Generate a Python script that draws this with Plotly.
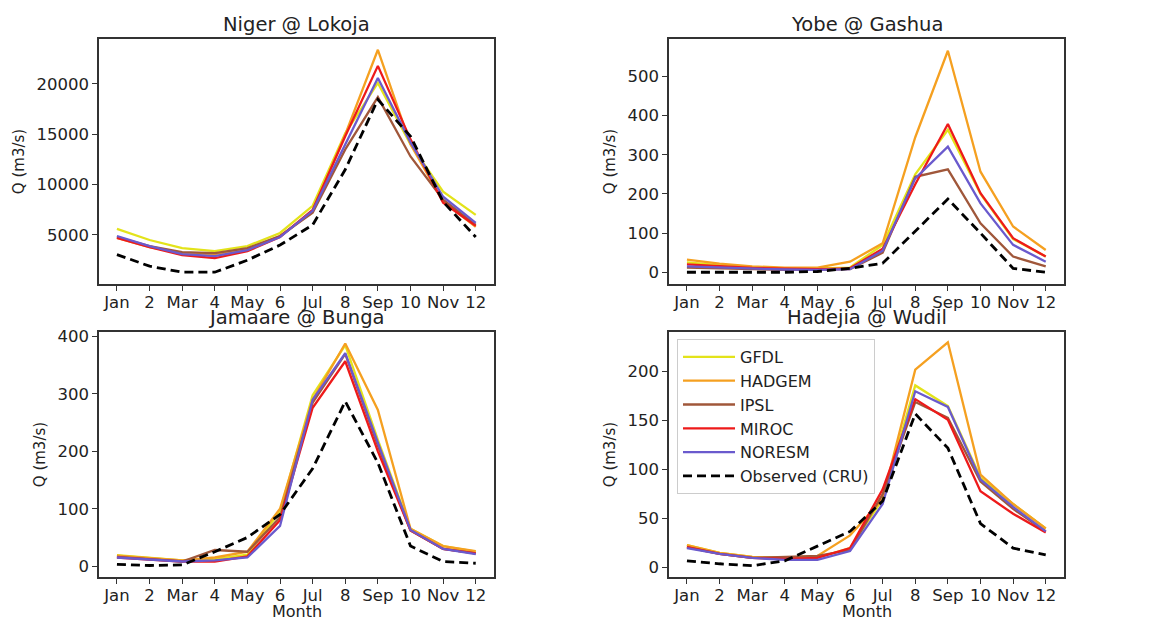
import plotly.graph_objects as go

# The page body has an 8px margin, so the figure is drawn 8px smaller and offset
OFF = 8
W, H = 1159 - OFF, 622 - OFF
months = list(range(1, 13))
month_labels = ["Jan", "2", "Mar", "4", "May", "6", "Jul", "8", "Sep", "10", "Nov", "12"]

series_names = ["GFDL", "HADGEM", "IPSL", "MIROC", "NORESM", "Observed (CRU)"]
colors = ["#e3e31a", "#f5a020", "#a0573a", "#ee1a1a", "#6a5acd", "#000000"]

# Niger @ Lokoja
niger_gfdl   = [5600, 4500, 3700, 3400, 3900, 5200, 7900, 15100, 20100, 14000, 9300, 7000]
niger_hadgem = [4700, 3800, 3200, 3100, 3600, 4900, 7300, 15000, 23400, 14000, 8300, 5800]
niger_ipsl   = [4800, 3900, 3300, 3200, 3700, 4900, 7200, 13500, 18700, 12800, 8500, 6000]
niger_miroc  = [4700, 3800, 3000, 2700, 3400, 4800, 7500, 14800, 21800, 14500, 8200, 5900]
niger_noresm = [4900, 3900, 3100, 2900, 3500, 4800, 7400, 14000, 20600, 14200, 8800, 6200]
niger_obs    = [3050, 1900, 1300, 1300, 2500, 4000, 6000, 11500, 18450, 14800, 8300, 4800]

# Yobe @ Gashua
yobe_gfdl   = [25, 18, 13, 10, 10, 12, 70, 250, 364, 200, 85, 40]
yobe_hadgem = [32, 22, 15, 12, 12, 27, 74, 345, 566, 257, 117, 57]
yobe_ipsl   = [12, 10, 8, 6, 6, 8, 50, 244, 263, 125, 40, 15]
yobe_miroc  = [20, 15, 11, 9, 8, 10, 60, 225, 379, 202, 87, 40]
yobe_noresm = [15, 12, 9, 7, 6, 8, 55, 240, 321, 176, 70, 27]
yobe_obs    = [0, 0, 0, 0, 2, 10, 23, 105, 187, 100, 10, 0]

# Jamaare @ Bunga
jam_gfdl   = [19, 15, 10, 12, 20, 95, 298, 385, 220, 65, 35, 25]
jam_hadgem = [18, 14, 10, 15, 25, 100, 290, 388, 272, 65, 35, 26]
jam_ipsl   = [16, 12, 8, 28, 25, 85, 285, 370, 210, 62, 30, 22]
jam_miroc  = [15, 12, 8, 8, 17, 80, 276, 357, 200, 62, 30, 22]
jam_noresm = [15, 12, 8, 10, 15, 70, 290, 371, 215, 63, 30, 21]
jam_obs    = [3, 1, 2, 25, 50, 90, 170, 287, 180, 35, 8, 5]

# Hadejia @ Wudil
had_gfdl   = [23, 15, 11, 10, 10, 20, 70, 186, 165, 92, 65, 40]
had_hadgem = [23, 15, 11, 10, 12, 33, 70, 202, 230, 95, 65, 40]
had_ipsl   = [21, 14, 10, 11, 12, 18, 75, 169, 153, 88, 60, 37]
had_miroc  = [21, 14, 10, 9, 10, 20, 80, 172, 151, 78, 55, 36]
had_noresm = [20, 14, 10, 8, 8, 17, 65, 180, 164, 90, 62, 37]
had_obs    = [7, 4, 2, 7, 22, 37, 68, 157, 122, 45, 20, 13]

panels = [
    ("Niger @ Lokoja", [niger_gfdl, niger_hadgem, niger_ipsl, niger_miroc, niger_noresm, niger_obs],
     [130, 24470], [5000, 10000, 15000, 20000]),
    ("Yobe @ Gashua", [yobe_gfdl, yobe_hadgem, yobe_ipsl, yobe_miroc, yobe_noresm, yobe_obs],
     [-30, 596], [0, 100, 200, 300, 400, 500]),
    ("Jamaare @ Bunga", [jam_gfdl, jam_hadgem, jam_ipsl, jam_miroc, jam_noresm, jam_obs],
     [-19, 408], [0, 100, 200, 300, 400]),
    ("Hadejia @ Wudil", [had_gfdl, had_hadgem, had_ipsl, had_miroc, had_noresm, had_obs],
     [-9.5, 240.5], [0, 50, 100, 150, 200]),
]

# target pixel frames in the screenshot (x0, x1, ytop, ybottom)
frames = [(99, 494, 39, 284), (669, 1064, 39, 284), (99, 494, 332, 577), (669, 1064, 332, 577)]


def px(x):
    return (x - OFF) / W


def py(y):
    return 1 - (y - OFF) / H


FONT = "DejaVu Sans"
fig = go.Figure()
layout = dict(
    width=W, height=H, template="none",
    margin=dict(l=0, r=0, t=0, b=0),
    paper_bgcolor="white", plot_bgcolor="white",
    font=dict(family=FONT, size=16, color="#222"),
    showlegend=True,
    legend=dict(x=px(677), y=py(339), xanchor="left", yanchor="top",
                bgcolor="rgba(255,255,255,0.9)", bordercolor="#cccccc", borderwidth=1,
                font=dict(family=FONT, size=16, color="#222"), tracegroupgap=0,
                itemwidth=52),
)
annotations = []

for i, (title, data, yr, ytv) in enumerate(panels):
    x0, x1, yt, yb = frames[i]
    n = "" if i == 0 else str(i + 1)
    xa, ya = "xaxis" + n, "yaxis" + n
    layout[xa] = dict(
        domain=[px(x0), px(x1)], anchor="y" + n, range=[0.45, 12.56],
        tickvals=months, ticktext=month_labels, ticks="outside", ticklen=5, tickwidth=1.3,
        tickcolor="#333", showline=True, mirror=True, linecolor="#333", linewidth=1.6,
        showgrid=False, zeroline=False, tickfont=dict(size=16.5, color="#222"),
        ticklabelstandoff=-3,
    )
    layout[ya] = dict(
        domain=[py(yb), py(yt)], anchor="x" + n, range=yr,
        tickvals=ytv, tickformat="d", ticks="outside", ticklen=5, tickwidth=1.3,
        tickcolor="#333", showline=True, mirror=True, linecolor="#333", linewidth=1.6,
        showgrid=False, zeroline=False, tickfont=dict(size=16.5, color="#222"),
        title=dict(text="Q (m3/s)", font=dict(size=15, color="#222"), standoff=8),
    )
    for j, (name, vals) in enumerate(zip(series_names, data)):
        obs = j == 5
        fig.add_trace(go.Scatter(
            x=months, y=vals, mode="lines", name=name,
            line=dict(color=colors[j], width=2.8 if obs else 2.3,
                      dash="9px,5px" if obs else "solid"),
            xaxis="x" + n, yaxis="y" + n,
            showlegend=(i == 3), legendgroup=name,
        ))
    annotations.append(dict(
        text=title, x=px((x0 + x1) / 2), y=py(yt - 1), xref="paper", yref="paper",
        xanchor="center", yanchor="bottom", showarrow=False,
        font=dict(size=19.5, color="#222", family=FONT)))
    if i >= 2:
        annotations.append(dict(
            text="Month", x=px((x0 + x1) / 2), y=py(611), xref="paper", yref="paper",
            xanchor="center", yanchor="middle", showarrow=False,
            font=dict(size=16, color="#222", family=FONT)))

layout["annotations"] = annotations
fig.update_layout(**layout)
fig.write_html("out.html")
